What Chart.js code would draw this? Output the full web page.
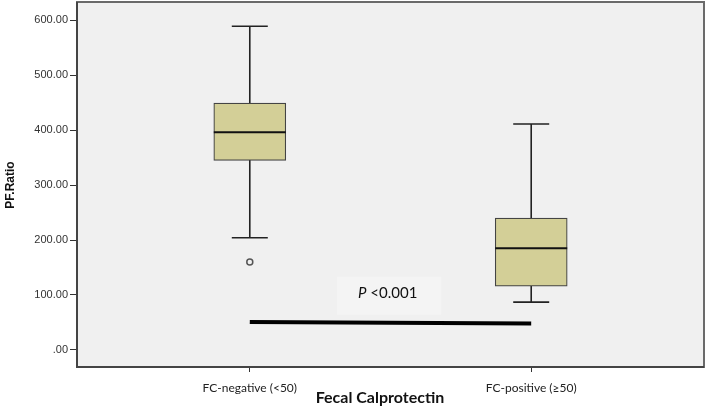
<!DOCTYPE html>
<html lang="en">
<head>
<meta charset="utf-8">
<script src="https://cdn.jsdelivr.net/npm/chart.js@4.4.1/dist/chart.umd.min.js"></script>
<style>
  body { margin: 0; background: #fff; }
  #wrap { width: 708px; height: 408px; }
</style>
</head>
<body>
<div id="wrap"><canvas id="chart" width="708" height="408"></canvas></div>

<script>
"use strict";

// groups on the x axis (positions 1 and 2)
var categories = ['FC-negative (<50)', 'FC-positive (\u226550)'];

// box plot summary per group
var whiskerLow  = [204, 87];
var quartile1   = [345, 116];
var medians     = [396, 185];
var quartile3   = [449, 240];
var whiskerHigh = [589, 411];

// outliers: group index and value
var outlierGroup = [0];
var outlierValue = [160];

// p-value bar between the groups
var sigLineY = [51, 48];
var pText = 'P <0.001';
var pTextY = 104;

var yTicks = [0, 100, 200, 300, 400, 500, 600];

var boxData = categories.map(function(c, i) {
  return { x: i + 1, y: [quartile1[i], quartile3[i]] };
});
var outlierData = outlierGroup.map(function(g, i) {
  return { x: g + 1, y: outlierValue[i] };
});
var sigData = [{ x: 1, y: sigLineY[0] }, { x: 2, y: sigLineY[1] }];

// draws whiskers, caps, medians, frame and the extra text
var boxExtras = {
  id: 'boxExtras',
  beforeDraw: function(chart) {
    var ctx = chart.ctx, a = chart.chartArea;
    ctx.save();
    ctx.fillStyle = '#f0f0f0';
    ctx.fillRect(a.left, a.top, a.right - a.left, a.bottom - a.top);
    ctx.restore();
  },
  beforeDatasetsDraw: function(chart) {
    var ctx = chart.ctx, xs = chart.scales.x, ys = chart.scales.y;
    ctx.save();
    // p-value label box
    var bx1 = xs.getPixelForValue(1.31), bx2 = xs.getPixelForValue(1.68);
    var by1 = ys.getPixelForValue(133), by2 = ys.getPixelForValue(64);
    ctx.fillStyle = '#f4f4f4';
    ctx.fillRect(bx1, by1, bx2 - bx1, by2 - by1);

    ctx.strokeStyle = '#222';
    ctx.lineWidth = 1.6;
    for (var i = 0; i < categories.length; i++) {
      var cx = xs.getPixelForValue(i + 1);
      var capW = 18;
      var lo = ys.getPixelForValue(whiskerLow[i]);
      var hi = ys.getPixelForValue(whiskerHigh[i]);
      ctx.beginPath();
      ctx.moveTo(cx, lo); ctx.lineTo(cx, hi);
      ctx.moveTo(cx - capW, lo); ctx.lineTo(cx + capW, lo);
      ctx.moveTo(cx - capW, hi); ctx.lineTo(cx + capW, hi);
      ctx.stroke();
    }
    ctx.restore();
  },
  afterDatasetsDraw: function(chart) {
    var ctx = chart.ctx, xs = chart.scales.x, ys = chart.scales.y, a = chart.chartArea;
    ctx.save();
    ctx.strokeStyle = '#111';
    ctx.lineWidth = 2;
    for (var i = 0; i < categories.length; i++) {
      var cx = xs.getPixelForValue(i + 1);
      var m = ys.getPixelForValue(medians[i]);
      ctx.beginPath();
      ctx.moveTo(cx - 36, m); ctx.lineTo(cx + 36, m);
      ctx.stroke();
    }

    // P <0.001
    var tx = xs.getPixelForValue(1.49), ty = ys.getPixelForValue(pTextY);
    ctx.fillStyle = '#111';
    ctx.textBaseline = 'middle';
    ctx.font = 'italic 15px Lato';
    var pw = ctx.measureText('P').width;
    ctx.font = '15px Lato';
    var rest = pText.slice(1);
    var rw = ctx.measureText(rest).width;
    var startX = tx - (pw + rw) / 2;
    ctx.font = 'italic 15px Lato';
    ctx.textAlign = 'left';
    ctx.fillText('P', startX, ty);
    ctx.font = '15px Lato';
    ctx.fillText(rest, startX + pw, ty);

    // frame
    ctx.strokeStyle = '#6a6a6a';
    ctx.lineWidth = 2;
    ctx.strokeRect(a.left, a.top, a.right - a.left, a.bottom - a.top);
    ctx.strokeStyle = '#444';
    ctx.beginPath();
    ctx.moveTo(a.left, a.top); ctx.lineTo(a.left, a.bottom); ctx.lineTo(a.right, a.bottom);
    ctx.stroke();

    // axis titles
    ctx.fillStyle = '#111';
    ctx.textAlign = 'center';
    ctx.font = 'bold 16px Lato';
    ctx.fillText('Fecal Calprotectin', 380, 398);
    ctx.translate(11, 185);
    ctx.rotate(-Math.PI / 2);
    ctx.font = 'bold 12px "Liberation Sans"';
    ctx.fillText('PF.Ratio', 0, 0);
    ctx.restore();
  }
};

var chart = new Chart(document.getElementById('chart'), {
  type: 'bar',
  data: {
    datasets: [{
      type: 'line',
      data: sigData,
      borderColor: '#000',
      borderWidth: 4,
      pointRadius: 0,
      fill: false,
      order: 0
    }, {
      type: 'scatter',
      data: outlierData,
      pointStyle: 'circle',
      pointRadius: 3,
      borderWidth: 1.5,
      borderColor: '#555',
      backgroundColor: 'rgba(0,0,0,0)',
      order: 1
    }, {
      type: 'bar',
      data: boxData,
      backgroundColor: '#d3cf97',
      borderColor: '#444',
      borderWidth: 1.2,
      borderSkipped: false,
      barThickness: 72,
      order: 2
    }]
  },
  options: {
    responsive: false,
    animation: false,
    layout: { autoPadding: false, padding: { left: 0, right: 4, top: 2, bottom: 0 } },
    plugins: {
      legend: { display: false },
      tooltip: { enabled: false }
    },
    scales: {
      x: {
        type: 'linear',
        offset: false,
        min: 0.386,
        max: 2.614,
        afterBuildTicks: function(scale) {
          scale.ticks = categories.map(function(c, i) { return { value: i + 1 }; });
        },
        afterFit: function(scale) {
          scale.height = 41;
          scale.paddingLeft = 0;
          scale.paddingRight = 0;
        },
        ticks: {
          autoSkip: false,
          maxRotation: 0,
          padding: 9,
          color: '#222',
          font: { family: 'Lato', size: 12 },
          callback: function(v) { return categories[Math.round(v) - 1]; }
        },
        grid: { offset: false, drawOnChartArea: false, drawTicks: true, tickLength: 5, color: '#333' },
        border: { display: false }
      },
      y: {
        min: -31,
        max: 633,
        afterBuildTicks: function(scale) {
          scale.ticks = yTicks.map(function(v) { return { value: v }; });
        },
        afterFit: function(scale) {
          scale.width = 77;
          scale.paddingTop = 0;
          scale.paddingBottom = 0;
        },
        ticks: {
          padding: 2,
          color: '#333',
          font: { family: '"Liberation Sans"', size: 11 },
          callback: function(v) { return v === 0 ? '.00' : v.toFixed(2); }
        },
        grid: { drawOnChartArea: false, drawTicks: true, tickLength: 7, color: '#333' },
        border: { display: false }
      }
    }
  },
  plugins: [boxExtras]
});
</script>
</body>
</html>
